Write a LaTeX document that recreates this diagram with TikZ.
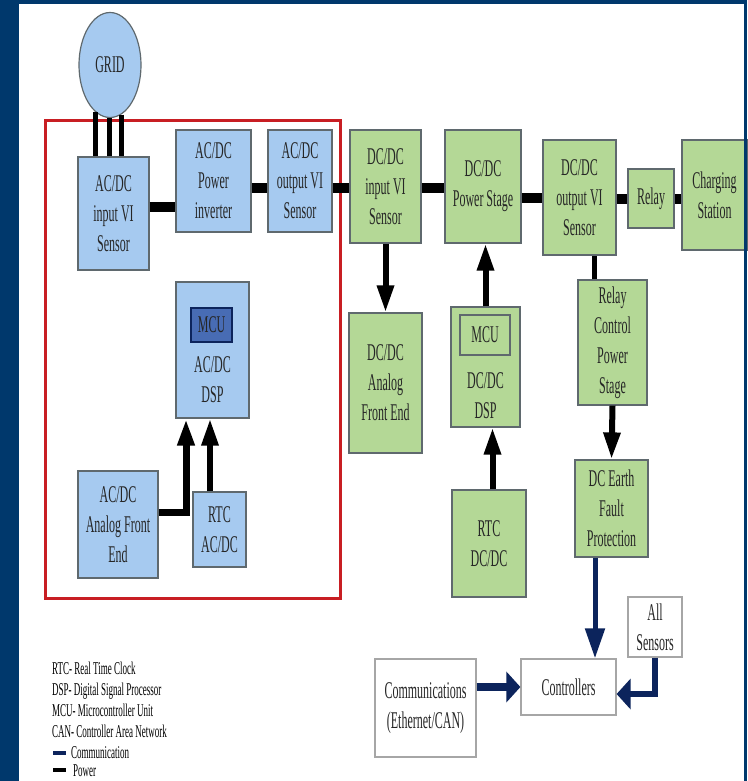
\documentclass[tikz,border=0pt]{standalone}
\usepackage{fontspec}
\usepackage{xcolor}
\usepackage{tikz}
\usetikzlibrary{positioning,arrows.meta,shapes.geometric}
\newfontfamily\diagfont[FakeStretch=0.5]{Liberation Serif}
\definecolor{framenavy}{RGB}{0,56,108}
\definecolor{boxblue}{RGB}{166,202,240}
\definecolor{mcublue}{RGB}{72,108,180}
\definecolor{boxgreen}{RGB}{180,216,150}
\definecolor{edgegray}{RGB}{95,105,110}
\definecolor{commnavy}{RGB}{12,36,92}
\definecolor{zonered}{RGB}{200,30,35}

\tikzset{
  block/.style={draw=edgegray, line width=1.2pt, inner sep=0pt, align=center,
        font=\diagfont\fontsize{24}{30}\selectfont, text=black!85},
  bluebox/.style={block, fill=boxblue},
  greenbox/.style={block, fill=boxgreen},
  plainbox/.style={block, fill=white, draw=gray!70},
  boxtext/.style={inner sep=0pt, align=center,
        font=\diagfont\fontsize{24}{30}\selectfont, text=black!85},
  power/.style={line width=10pt, black},
  feed/.style={line width=5pt, black},
  powerarrow/.style={line width=6pt, black, -{Triangle[width=16pt,length=27pt]}},
  commdown/.style={line width=5pt, commnavy, -{Triangle[width=19pt,length=30pt]}},
  commside/.style={line width=8pt, commnavy, -{Triangle[width=30pt,length=14pt]}},
  legendtext/.style={inner sep=0pt, anchor=west, align=left,
        font=\diagfont\fontsize{18}{21}\selectfont}
}

\begin{document}
\begin{tikzpicture}[x=1pt, y=-1pt]
  % frame
  \fill[framenavy] (0,0) rectangle (747,781);
  \fill[white] (19,4) rectangle (744,781);
  \useasboundingbox (0,0) rectangle (747,781);

  % AC/DC stage
  \draw[zonered, line width=3pt] (45,121) rectangle (340,598);
  \node[bluebox, ellipse, minimum width=62pt, minimum height=105pt] (grid) at (110,65) {GRID};
  \node[bluebox, minimum width=71pt, minimum height=113pt] (acin) at (113.5,213.5) {AC/DC\\input VI\\Sensor};
  \node[bluebox, minimum width=75pt, minimum height=102pt] (acinv) at (213.5,181) {AC/DC\\Power\\inverter};
  \node[bluebox, minimum width=64pt, minimum height=102pt] (acout) at (300,181) {AC/DC\\output VI\\Sensor};
  \node[bluebox, minimum width=73pt, minimum height=136pt] (acdsp) at (212.5,350) {};
  \node[block, fill=mcublue, draw=commnavy, minimum width=41pt, minimum height=34pt] (acmcu) at (211.5,325) {MCU};
  \node[boxtext] (acdsptext) at (212.5,380) {AC/DC\\DSP};
  \node[bluebox, minimum width=80pt, minimum height=107pt] (acafe) at (118,524.5) {AC/DC\\Analog Front\\End};
  \node[bluebox, minimum width=53pt, minimum height=75pt] (rtcac) at (219.5,529.5) {RTC\\AC/DC};

  % DC/DC stage
  \node[greenbox, minimum width=71pt, minimum height=113pt] (dcin) at (385.5,186.5) {DC/DC\\input VI\\Sensor};
  \node[greenbox, minimum width=76pt, minimum height=113pt] (dcps) at (483,186.5) {DC/DC\\Power Stage};
  \node[greenbox, minimum width=73pt, minimum height=115pt] (dcout) at (579.5,197.5) {DC/DC\\output VI\\Sensor};
  \node[greenbox, minimum width=46pt, minimum height=59pt] (relay) at (651,198.5) {Relay};
  \node[greenbox, minimum width=65pt, minimum height=110pt] (charging) at (714.5,195) {Charging\\Station};
  \node[greenbox, minimum width=73pt, minimum height=140pt] (dcafe) at (385.5,383) {DC/DC\\Analog\\Front End};
  \node[greenbox, minimum width=69pt, minimum height=120pt] (dcdsp) at (485.5,367) {};
  \node[greenbox, minimum width=50pt, minimum height=40pt] (dcmcu) at (485,335) {MCU};
  \node[boxtext] (dcdsptext) at (485.5,396) {DC/DC\\DSP};
  \node[greenbox, minimum width=74pt, minimum height=107pt] (rtcdc) at (489,543.5) {RTC\\DC/DC};
  \node[greenbox, minimum width=69pt, minimum height=125pt] (rcps) at (612.5,342.5) {Relay\\Control\\Power\\Stage};
  \node[greenbox, minimum width=73pt, minimum height=97pt] (dcef) at (611.5,508.5) {DC Earth\\Fault\\Protection};

  % control
  \node[plainbox, minimum width=54pt, minimum height=60pt] (allsens) at (655,627) {All\\Sensors};
  \node[plainbox, minimum width=95pt, minimum height=56pt] (ctrl) at (568.5,687) {Controllers};
  \node[plainbox, minimum width=101pt, minimum height=98pt] (comm) at (425.5,708) {Communications\\(Ethernet/CAN)};

  % power lines
  \foreach \a in {253,269,283}
    \draw[feed] (grid.\a) -- (grid.\a |- acin.north);
  \draw[power] ([yshift=6.5pt]acin.east) -- ([yshift=6.5pt]acin.east -| acinv.west);
  \draw[power] ([yshift=-7pt]acinv.east) -- ([yshift=-7pt]acinv.east -| acout.west);
  \draw[power] ([yshift=-7pt]acout.east) -- ([yshift=-7pt]acout.east -| dcin.west);
  \draw[power] ([yshift=-1.5pt]dcin.east) -- ([yshift=-1.5pt]dcin.east -| dcps.west);
  \draw[power] (dcout.west -| dcps.east) -- (dcout.west);
  \draw[power] (relay.west -| dcout.east) -- (relay.west);
  \draw[power] (relay.east) -- (relay.east -| charging.west);
  \draw[feed] ([xshift=-18.5pt]rcps.north) -- ([xshift=-18.5pt]rcps.north |- dcout.south);

  % signal arrows
  \draw[powerarrow] (dcin.south) -- (dcafe.north);
  \draw[powerarrow] (dcdsp.north) -- (dcdsp.north |- dcps.south);
  \draw[powerarrow] ([xshift=3.5pt]rtcdc.north) -- ([xshift=3.5pt]rtcdc.north |- dcdsp.south);
  \draw[powerarrow] (rcps.south) -- (dcef.north);
  \draw[powerarrow, line width=7pt] ([yshift=12.5pt]acafe.east) -| ([xshift=-26.5pt]acdsp.south);
  \draw[powerarrow] ([xshift=-9.5pt]rtcac.north) -- ([xshift=-9.5pt]rtcac.north |- acdsp.south);

  % communication arrows
  \draw[commdown] ([xshift=-16.5pt]dcef.south) -- ([xshift=-16.5pt]dcef.south |- ctrl.north);
  \draw[commside] (ctrl.west -| comm.east) -- (ctrl.west);
  \draw[commside, line width=6pt] (allsens.south) |- ([yshift=-7pt]ctrl.east);

  % legend
  \node[legendtext] (abbrev) at (52,700) {RTC- Real Time Clock\\DSP- Digital Signal Processor\\MCU- Microcontroller Unit\\CAN- Controller Area Network};
  \fill[commnavy] (53,751) rectangle (66,755);
  \node[legendtext] (commkey) at (71,753) {Communication};
  \fill[black] (53,768) rectangle (66,772);
  \node[legendtext] (powerkey) at (73,771) {Power};

  \fill[framenavy] (744,0) rectangle (747,781);
\end{tikzpicture}
\end{document}
